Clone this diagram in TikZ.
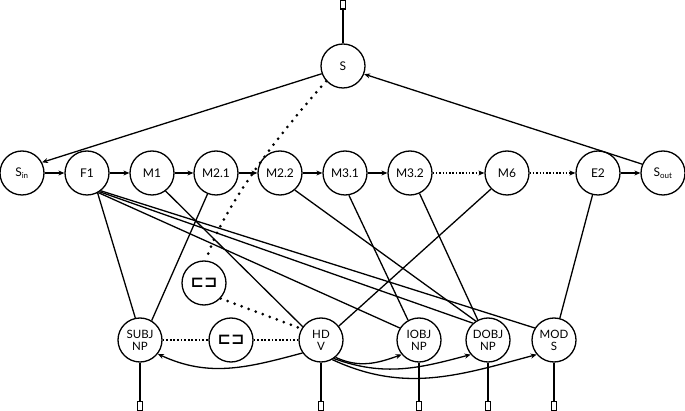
\documentclass[tikz,border=0pt]{standalone}
\usepackage{fontspec}
\setmainfont{Lato}
\newfontfamily\djv{DejaVu Sans}
\usetikzlibrary{arrows.meta}
\begin{document}
\begin{tikzpicture}[x=1pt,y=-1pt,
  nd/.style={draw, circle, line width=1.3pt, minimum size=44pt, inner sep=0pt, font=\fontsize{12}{13}\selectfont},
  ndb/.style={nd, align=center, font=\fontsize{11.5}{12}\selectfont},
  tofu/.style={draw, line width=1.1pt, minimum width=5pt, minimum height=9pt, inner sep=0pt},
  ln/.style={line width=1.3pt},
  arr/.style={ln, -{Stealth[length=6pt,width=5pt]}},
  dotarr/.style={line width=1.2pt, dash pattern=on 1.5pt off 1.8pt, -{Stealth[length=6pt,width=5pt]}},
  dashln/.style={line width=1.3pt, dash pattern=on 1.8pt off 1.8pt},
  bigdots/.style={line width=3pt, line cap=round, dash pattern=on 0pt off 7.5pt},
  sq/.style={font=\djv\bfseries\fontsize{16}{16}\selectfont}
]
\useasboundingbox (0,0) rectangle (685,411);
% nodes
\node[nd] (s) at (343,66) {S};
\node[tofu] (ts) at (343,4.5) {};
\node[nd] (sin) at (22,173) {S\textsubscript{in}};
\node[nd] (f1) at (87,173) {F1};
\node[nd] (m1) at (152,173) {M1};
\node[nd] (m21) at (216,173) {M2.1};
\node[nd] (m22) at (280,173) {M2.2};
\node[nd] (m31) at (345,173) {M3.1};
\node[nd] (m32) at (410,173) {M3.2};
\node[nd] (m6) at (507,173) {M6};
\node[nd] (e2) at (598,173) {E2};
\node[nd] (sout) at (663,173) {S\textsubscript{out}};
\node[nd, sq] (ua) at (204,283) {⊏⊐};
\node[nd, sq] (la) at (231,340) {⊏⊐};
\node[ndb] (subj) at (140,340) {SUBJ\\NP};
\node[ndb] (hd) at (321,340) {HD\\V};
\node[ndb] (iobj) at (419,340) {IOBJ\\NP};
\node[ndb] (dobj) at (488,340) {DOBJ\\NP};
\node[ndb] (mod) at (554,340) {MOD\\S};
\node[tofu] (tsubj) at (140,406) {};
\node[tofu] (thd) at (321,406) {};
\node[tofu] (tiobj) at (419,406) {};
\node[tofu] (tdobj) at (488,406) {};
\node[tofu] (tmod) at (554,406) {};
% top connectors
\draw[ln] (s.north) -- (ts.south);
\draw[arr] (s.200) -- (sin.28);
\draw[arr] (sout.157) -- (s.-21);
\draw[arr] (sin) -- (f1);
\draw[arr] (f1) -- (m1);
\draw[arr] (m1) -- (m21);
\draw[arr] (m21) -- (m22);
\draw[arr] (m22) -- (m31);
\draw[arr] (m31) -- (m32);
\draw[dotarr] (m32) -- (m6);
\draw[dotarr] (m6) -- (e2);
\draw[arr] (e2) -- (sout);
% row to row lines
\draw[ln] (f1.-62) -- (subj.102);
\draw[ln] (m21.248) -- (subj.59);
\draw[ln] (f1.-52) -- (mod.148);
\draw[ln] (f1.-56) -- (dobj.132);
\draw[ln] (f1.-60) -- (iobj.148);
\draw[ln] (m1.-53) -- (hd.144);
\draw[ln] (m22.-49) -- (dobj.123);
\draw[ln] (m31.-80) -- (iobj.119);
\draw[ln] (m32.-65) -- (dobj.117);
\draw[ln] (m6.225) -- (hd.38);
\draw[ln] (e2.256) -- (mod.75);
% dotted
\draw[bigdots] (s.222) .. controls (265,150) and (220,215) .. (ua.85);
\draw[bigdots] (ua.-43) -- (hd.150);
\draw[dashln] (subj) -- (la);
\draw[dashln] (la) -- (hd);
% bottom
\draw[ln] (subj.south) -- (tsubj.north);
\draw[ln] (hd.south) -- (thd.north);
\draw[ln] (iobj.south) -- (tiobj.north);
\draw[ln] (dobj.south) -- (tdobj.north);
\draw[ln] (mod.south) -- (tmod.north);
\draw[arr] (hd.-145) to[out=-165,in=-25] (subj.-38);
\draw[arr] (hd.-50) to[out=-25,in=-160] (iobj.-140);
\draw[arr] (hd.-55) to[out=-20,in=-165] (dobj.-140);
\draw[arr] (hd.-60) to[out=-25,in=-165] (mod.-140);
\end{tikzpicture}
\end{document}
